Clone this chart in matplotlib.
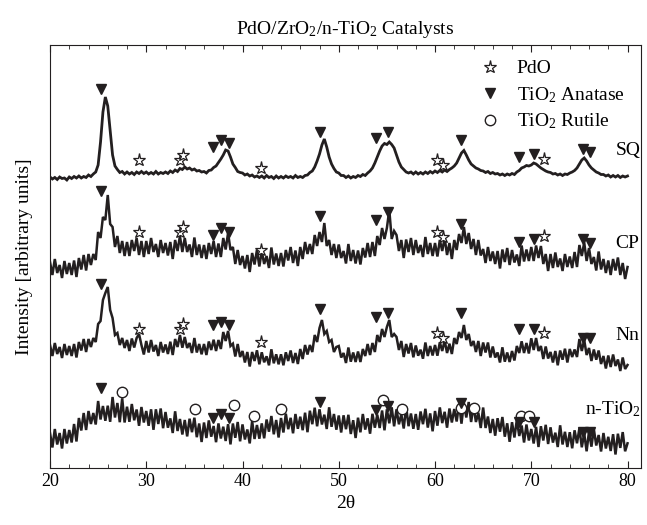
import numpy as np
import matplotlib.pyplot as plt
from matplotlib.ticker import MultipleLocator

plt.rcParams['font.family'] = ['Liberation Serif', 'DejaVu Serif']
plt.rcParams['mathtext.fontset'] = 'custom'
plt.rcParams['mathtext.rm'] = 'Liberation Serif'
plt.rcParams['mathtext.it'] = 'Liberation Serif:italic'

# scan: 20-80 deg 2theta, 0.25 deg step, intensities already offset per sample
two_theta = np.linspace(20, 80, 241)

sq = [
    291, 289, 290.5, 288.5, 291, 289.5, 290, 288,
    291, 289.5, 291.5, 290, 292, 290, 291.5, 290.5,
    293, 291.5, 294, 296, 303, 326, 356, 371,
    362, 338, 313, 302, 298.5, 295.5, 296.5, 294,
    296, 294, 295.5, 293.5, 296, 294.5, 296.5, 294.5,
    296, 294, 295.5, 294, 296.5, 294, 295.5, 294.5,
    296, 294.5, 297, 295.5, 298, 296.5, 299.5, 298.5,
    301, 299, 300, 298, 299, 297, 297.5, 296,
    296.5, 295, 297.5, 298, 300.5, 302, 305.5, 309,
    313, 318, 317, 311, 304, 300.5, 296.5, 295.5,
    295, 293, 294, 292, 293, 291, 292, 290.5,
    292, 290, 292.5, 290.5, 291.5, 289.5, 292, 290,
    291.5, 290, 292, 290.5, 291.5, 290, 292.5, 290.5,
    291.5, 290.5, 292.5, 293, 295.5, 297, 301, 307,
    314, 323, 329, 321, 311, 304, 299.5, 296,
    295, 292.5, 292.5, 290.5, 292, 290, 291.5, 290.5,
    292.5, 291.5, 293.5, 292.5, 295, 297, 300, 305,
    311, 317, 322, 324.5, 323.5, 326, 323.5, 320,
    313, 306, 301, 298.5, 296, 295, 296, 294,
    296, 294, 295.5, 294, 296, 294.5, 296.5, 295,
    297, 295.5, 297.5, 296, 298, 296.5, 298.5, 300,
    302, 305, 310, 315, 317.5, 313, 308, 304,
    302, 300, 299, 297.5, 297, 295.5, 296.5, 294.5,
    295.5, 294, 294.5, 293, 294, 292.5, 294, 293,
    294.5, 293.5, 296, 297.5, 300, 301, 302.5, 302,
    303, 305, 304, 302, 300, 298.5, 297, 296,
    295.5, 294, 294.5, 293, 294, 292.5, 294, 293.5,
    295, 296, 297.5, 300, 304, 308, 310, 307,
    303, 300, 298, 296, 295, 293.5, 293.5, 292,
    293, 291, 292.5, 291, 292.5, 290.5, 292, 291,
    292]

cp = [
    206, 193, 209, 195, 203, 190, 207, 194,
    205, 193, 207.5, 191, 210, 198.5, 213, 197.5,
    214, 203, 214, 208, 236, 230, 251, 248,
    273, 244, 241, 221, 232, 215, 227, 212,
    226, 212, 228, 217, 230, 213, 227, 211,
    227, 214, 230, 216, 224, 211, 228, 215,
    225, 212.5, 226, 209, 228, 217, 232, 216,
    230, 216, 223.5, 211, 230.5, 213, 223.5, 210,
    223, 209, 225, 214, 227, 211, 224.5, 211,
    230, 218.5, 235, 218, 221, 204, 218, 203,
    212, 199.5, 213, 196, 215, 203.5, 218, 201.5,
    217, 204, 212, 200, 220.5, 203.5, 214.5, 202,
    215, 201.5, 218, 207.5, 221, 205, 217.5, 202,
    221, 209, 226, 214, 224, 214, 233, 222,
    236, 226, 245, 222, 228, 213, 224, 210,
    223.5, 210, 217, 204.5, 224, 207, 218, 204.5,
    217.5, 203.5, 220, 210.5, 225, 211, 226, 212,
    232, 223, 240, 229, 240, 258, 229, 237,
    233, 217, 228, 210, 228.5, 216, 230, 213,
    228, 215, 223, 211, 231, 214, 225, 212,
    225, 211.5, 228, 217, 230, 213, 225, 209,
    228, 218, 234, 225, 241, 224, 235, 219,
    229, 213, 228, 212.5, 219, 205, 221, 207,
    216.5, 204, 217, 199.5, 218.5, 206, 220, 203,
    218, 205.5, 213.5, 202, 222.5, 206.5, 218.5, 207,
    221, 207, 222.5, 210, 222, 204, 214, 197,
    214, 200, 215.5, 201, 209.5, 197, 214, 201,
    211.5, 200, 216, 201, 223, 212, 225.5, 207,
    220, 204, 211, 197.5, 216.5, 198.5, 209, 195,
    207.5, 193, 209, 197.5, 210.5, 193, 205, 189,
    201]

nn = [
    123, 112, 125, 114, 121, 110, 124, 113,
    122, 112, 124, 110.5, 126, 117.5, 129, 116,
    129, 121, 130, 126, 144, 147, 168, 175,
    181, 158, 150, 133, 135, 123, 130, 120,
    128, 117, 129.5, 120.5, 130, 134, 123, 113.5,
    127, 115.5, 128, 116.5, 123, 112, 126, 115.5,
    123.5, 114, 126.3, 113, 129, 121, 133, 120.3,
    131, 120, 125, 115, 130, 115.5, 124, 113.7,
    124, 113, 126.5, 118, 128.3, 117, 128, 119,
    136, 127, 137, 122, 124.3, 111.5, 124, 111,
    117, 105.5, 116, 101.5, 116, 107, 117.7, 103.7,
    115.7, 105.7, 111.7, 102.7, 118.7, 104.7, 113.7, 103.7,
    113.7, 102.7, 115.7, 107, 117.5, 105, 115, 104,
    119, 109, 123, 113.5, 123, 116, 133, 126,
    140, 148, 134, 137, 126, 128, 116, 121,
    122, 110.5, 115, 105, 120.5, 106.3, 115.5, 106,
    116.5, 106, 119, 112, 124, 113, 125, 116,
    133, 126, 139, 131, 141, 148, 131, 134,
    131, 118, 127, 111, 124, 114.5, 125, 110.7,
    122.5, 112.3, 118.3, 109.3, 125.5, 112, 122, 112.5,
    123, 112.3, 125.7, 117, 127.5, 115, 124.3, 114,
    130, 124, 136, 130, 143, 128, 134, 122,
    127, 116, 127, 112, 125.5, 115.5, 125.5, 110.5,
    121.5, 110.5, 115.5, 105.5, 120.7, 106.3, 115.5, 106,
    117, 107.5, 122, 115, 126.7, 115, 125, 114.5,
    129.7, 118, 130, 117, 122, 109, 121.5, 109.5,
    116, 105.5, 117, 102.7, 117.5, 108.3, 119.3, 105.5,
    119, 111, 118.5, 111, 129, 117, 128, 113,
    120, 107, 118.5, 108.3, 117.5, 104, 112, 99.5,
    112.5, 101, 113.5, 102, 108.5, 97, 110.5, 99,
    103]

n_tio2 = [
    35, 20.5, 39, 23.5, 35, 19.5, 39, 24.5,
    38, 25.5, 44, 26.5, 50, 37.5, 55, 38,
    57, 44, 55, 43.5, 67, 48.5, 62, 47.2,
    62.3, 46.2, 71, 50.5, 65, 45.8, 69.7, 45.5,
    61.3, 46.2, 64, 47.7, 58.5, 42.2, 61, 45.5,
    57, 42.2, 58.7, 38.2, 58.7, 44, 59.5, 39.8,
    56, 40.3, 49.6, 35, 56.7, 37, 49, 33.5,
    48, 31.6, 49.3, 35.8, 50.3, 30.8, 44.5, 26,
    45.5, 30, 47.6, 31.3, 42, 25.8, 44.6, 29.5,
    41.3, 27, 43.8, 23.6, 44.5, 30.2, 46, 26.7,
    43.6, 28.5, 38.5, 24.6, 47, 29, 43, 29.3,
    44.6, 29.7, 48.5, 36.3, 52, 33.7, 48, 30.5,
    50, 35.5, 54.3, 38.8, 50.2, 34.7, 54, 39.2,
    51.3, 37.8, 55.3, 35.8, 57.3, 43.8, 60.3, 41.7,
    58.7, 43.5, 53.3, 39, 60.7, 41.2, 54, 38.3,
    52.5, 35.5, 52.7, 38.8, 53.2, 34, 47.8, 30,
    50.3, 35.7, 54, 38.4, 49.7, 34.3, 54.2, 40.3,
    53.3, 40, 57.5, 37.7, 58.7, 44.7, 60.7, 41.7,
    58.7, 43.7, 53.7, 39.5, 61.2, 41.8, 54.5, 39.2,
    54, 38.2, 56.5, 43.8, 59.2, 40.4, 54.6, 36.7,
    57, 42.3, 60.6, 44.9, 56.2, 40.3, 59.5, 45.5,
    59, 46.5, 64.3, 44.3, 65, 50.5, 66, 46,
    62, 46, 55.3, 40, 60.5, 40, 51.5, 35,
    49, 32.3, 49.8, 36.3, 51, 31.3, 44.7, 26.2,
    45.8, 30.5, 48.2, 32, 42.5, 25.5, 43.5, 27.5,
    39, 24.5, 41.2, 21, 41.8, 27.5, 43.2, 24,
    40.7, 25.4, 35.3, 21, 42.7, 23.5, 36.2, 21,
    35.8, 19.7, 37.7, 24.7, 39.7, 20.7, 34.7, 16.7,
    36.7, 21.3, 39, 22.5, 33, 16.5, 35, 19.5,
    31.2, 17, 33.8, 13.5, 34.3, 20.1, 35.9, 16.7,
    24.7]

# marker positions (2theta) and the heights they sit at on each pattern
anatase_2t = [25.26, 36.90, 37.76, 38.56, 48.04, 53.85, 55.07, 62.75,
              68.70, 70.29, 75.38, 76.14]
pdo_2t = [29.24, 33.50, 33.84, 41.91, 60.22, 60.84, 71.33]
rutile_2t = [27.45, 35.06, 39.14, 41.22, 43.99, 54.61, 56.62, 62.75,
             64.06, 68.91, 69.77]

sq_anatase = [378.7, 321.3, 328, 324.7, 336.3, 329.7, 336.3, 328,
              310.7, 314, 319, 316.3]
sq_pdo = [308, 308, 312.7, 299.7, 308, 303, 308.7]
cp_anatase = [277.3, 233, 239.7, 236.3, 252, 248, 256.3, 243.7,
              226.3, 228.7, 228.7, 225.3]
cp_pdo = [236.3, 236.3, 241.3, 218.5, 236.3, 231.3, 232]
nn_anatase = [184, 143, 146.3, 143, 159, 150.7, 155.3, 154.7,
              138.7, 138.7, 129.7, 129.7]
nn_pdo = [138.7, 138.7, 143.7, 126, 135.3, 130.3, 135.3]
ti_anatase = [79.7, 50.3, 54, 49.7, 66.3, 58, 62.3, 64.7,
              46.3, 46.3, 36.3, 36.3]
ti_rutile = [75.7, 59, 63, 52.3, 59, 68, 59, 59.7, 59.7, 52, 52]

samples = ['SQ', 'CP', 'Nn', 'n-TiO$_2$']
label_pos = [(78.77, 313), (78.77, 219.7), (78.77, 128), (75.55, 53.4)]
line_widths = [2.0, 1.8, 1.8, 1.8]

ink = '#231f20'
fig = plt.figure(figsize=(6.47, 5.25), dpi=100)
ax = fig.add_axes([50 / 647, 57 / 525, 591 / 647, 423 / 525])

for y, lw in zip([sq, cp, nn, n_tio2], line_widths):
    ax.plot(two_theta, y, color=ink, lw=lw, solid_joinstyle='miter')

tri = dict(marker='v', ls='none', ms=7, color=ink)
star = dict(marker='*', ls='none', ms=9.5, mfc='white', mec=ink, mew=0.9)
circ = dict(marker='o', ls='none', ms=7.5, mfc='white', mec=ink, mew=1.0)

for a, p in [(sq_anatase, sq_pdo), (cp_anatase, cp_pdo), (nn_anatase, nn_pdo)]:
    ax.plot(anatase_2t, a, **tri)
    ax.plot(pdo_2t, p, **star)
ax.plot(rutile_2t, ti_rutile, **circ)
ax.plot(anatase_2t, ti_anatase, **tri)

for name, (x, y) in zip(samples, label_pos):
    ax.text(x, y, name, fontsize=14, va='baseline', ha='left')

# legend, drawn by hand so rows line up with the labels
legend_rows = [(star, 'PdO'), (tri, 'TiO$_2$ Anatase'), (circ, 'TiO$_2$ Rutile')]
for i, (style, text) in enumerate(legend_rows):
    fy = 0.9487 - i * 0.063
    ax.plot([0.7445], [fy], transform=ax.transAxes, **style)
    ax.text(0.790, fy - 0.0156, text, transform=ax.transAxes,
            fontsize=14, va='baseline', ha='left')

ax.set_xlim(20, 81.4)
ax.set_ylim(0, 423)
ax.xaxis.set_major_locator(MultipleLocator(10))
ax.xaxis.set_minor_locator(MultipleLocator(2))
ax.tick_params(axis='x', which='both', direction='in', top=True,
               labelsize=13, color=ink)
ax.tick_params(axis='x', which='major', length=5)
ax.tick_params(axis='x', which='minor', length=3)
ax.set_yticks([])
for s in ax.spines.values():
    s.set_color(ink)

ax.set_xlabel('2θ', fontsize=14)
ax.set_ylabel('Intensity [arbitrary units]', fontsize=14, labelpad=12)
ax.set_title('PdO/ZrO$_2$/n-TiO$_2$ Catalysts', fontsize=14, pad=8)

fig.savefig('out.png', dpi=100)
